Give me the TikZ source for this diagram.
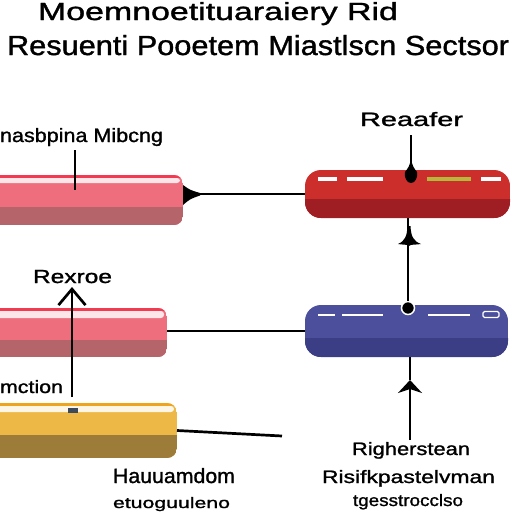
\documentclass[tikz,border=0pt]{standalone}
\usepackage{fontspec}
\setmainfont{Liberation Sans}
\newfontfamily\heavy[FakeBold=1.2]{Liberation Sans}
\usepackage{graphicx}
\usetikzlibrary{arrows.meta}
\definecolor{pinkmain}{HTML}{EE6E7E}
\definecolor{pinkdark}{HTML}{B5646A}
\definecolor{pinkborder}{HTML}{F23A50}
\definecolor{pinkhi}{HTML}{FCE6EA}
\definecolor{redmain}{HTML}{CC2E2C}
\definecolor{reddark}{HTML}{9E1E24}
\definecolor{bluemain}{HTML}{4B4F9C}
\definecolor{bluedark}{HTML}{3B3E84}
\definecolor{yelmain}{HTML}{EDB845}
\definecolor{yeldark}{HTML}{9D7B38}
\definecolor{yelborder}{HTML}{EFA41E}
\definecolor{yelhi}{HTML}{FDF6E6}
\definecolor{dashgreen}{HTML}{B5B83A}
\definecolor{chip}{HTML}{3B4A5C}
\newcommand{\fw}[3]{\resizebox{#1pt}{#2pt}{\heavy #3}}
\tikzset{
  lbl/.style={anchor=base west, inner sep=0pt, outer sep=0pt},
  wire/.style={line width=2.7pt, black},
  tube/.style={draw=none, inner sep=0pt, outer sep=0pt, rectangle},
  dotnode/.style={circle, fill=black, draw=white, line width=1.5pt, minimum size=13pt, inner sep=0pt},
}
\begin{document}
\begin{tikzpicture}[x=1pt,y=-1pt]
\useasboundingbox (0,0) rectangle (512,512);
\clip (0,0) rectangle (512,512);
\fill[white] (0,0) rectangle (512,512);

% titles
\node[lbl] (t1) at (38,20) {\fw{360}{18}{Moemnoetituaraiery Rid}};
\node[lbl] (t2) at (7,55) {\fw{502}{20}{Resuenti Pooetem Miastlscn Sectsor}};

% tubes (boxes)
\node[tube, minimum width=203pt, minimum height=50pt] (pinkA) at (81.5,200) {};
\begin{scope}
  \clip[rounded corners=9pt] (pinkA.south west) rectangle (pinkA.north east);
  \fill[pinkmain] (pinkA.south west) rectangle (pinkA.north east);
  \fill[pinkdark] (-20,207) rectangle (183,225);
  \fill[pinkborder] (-20,175) rectangle (183,178);
\end{scope}
\fill[pinkhi, rounded corners=3pt] (-20,178) rectangle (180,183);

\node[tube, minimum width=205pt, minimum height=48pt] (redB) at (407.5,194) {};
\begin{scope}
  \clip[rounded corners=16pt] (redB.south west) rectangle (redB.north east);
  \fill[redmain] (redB.south west) rectangle (redB.north east);
  \fill[reddark] (300,199) rectangle (515,220);
\end{scope}
\fill[white] (318,177) rectangle (337,181);
\fill[white] (347,177) rectangle (383,181);
\fill[dashgreen] (427,177) rectangle (471,181);
\fill[white] (481,177) rectangle (501,181);

\node[tube, minimum width=187pt, minimum height=49pt] (pinkC) at (73.5,332.5) {};
\begin{scope}
  \clip[rounded corners=9pt] (pinkC.south west) rectangle (pinkC.north east);
  \fill[pinkmain] (pinkC.south west) rectangle (pinkC.north east);
  \fill[pinkdark] (-20,340) rectangle (167,357);
  \fill[pinkborder] (-20,308) rectangle (167,311);
\end{scope}
\fill[pinkhi, rounded corners=3pt] (-20,311) rectangle (164,318);

\node[tube, minimum width=203pt, minimum height=52pt] (blueD) at (406.5,331) {};
\begin{scope}
  \clip[rounded corners=16pt] (blueD.south west) rectangle (blueD.north east);
  \fill[bluemain] (blueD.south west) rectangle (blueD.north east);
  \fill[bluedark] (300,338) rectangle (515,360);
\end{scope}
\fill[white] (318,313.5) rectangle (335,316);
\fill[white] (342,313.5) rectangle (383,316);
\fill[white] (428,313.5) rectangle (470,315.5);
\draw[white, line width=1.2pt, rounded corners=1.5pt] (483,311.5) rectangle (499,317.5);

\node[tube, minimum width=197pt, minimum height=55pt] (yelE) at (78.5,430.5) {};
\begin{scope}
  \clip[rounded corners=10pt] (yelE.south west) rectangle (yelE.north east);
  \fill[yelmain] (yelE.south west) rectangle (yelE.north east);
  \fill[yeldark] (-20,435) rectangle (177,458);
  \fill[yelborder] (-20,403) rectangle (177,406);
\end{scope}
\fill[yelhi, rounded corners=3pt] (-20,406) rectangle (174,412);
\fill[chip] (68,407.5) rectangle (78,413);

% labels
\node[lbl] (lMib) at (0,142) {\fw{163}{14}{nasbpina Mibcng}};
\node[lbl] (lRea) at (360,126) {\fw{103}{14}{Reaafer}};
\node[lbl] (lRex) at (33,283) {\fw{79}{13}{Rexroe}};
\node[lbl] (lMc) at (0,393) {\fw{63}{13}{mction}};
\node[lbl] (lHau) at (113,483) {\fw{122}{15}{Hauuamdom}};
\node[lbl] (lEtu) at (113,508) {\fw{117}{11}{etuoguuleno}};
\node[lbl] (lRig) at (352,455) {\fw{118}{13}{Righerstean}};
\node[lbl] (lRis) at (322,483) {\fw{173}{13}{Risifkpastelvman}};
\node[lbl] (lTge) at (353,506) {\fw{110}{12}{tgesstrocclso}};

% connectors
\coordinate (mibtop) at (75,150);
\coordinate (mibend) at (75,190);
\draw[wire] (mibtop) -- (mibend);

\draw[wire] (pinkA.east |- redB.west) -- (redB.west);
\fill (183,185) .. controls (190,190) .. (200,193) -- (200,195.5) .. controls (190,199) .. (183,205) -- cycle;

\draw[wire] (pinkC.east |- blueD.west) -- (blueD.west);

\coordinate (reatop) at (411,135);
\coordinate (reaend) at (411,182);
\draw[wire] (reatop) -- (reaend);
\fill (411,158) .. controls (412,166) and (414,168) .. (417,172)
  .. controls (418,178) and (415,183) .. (411,183)
  .. controls (407,183) and (404,178) .. (405,172)
  .. controls (408,168) and (410,166) .. (411,158) -- cycle;

\node[dotnode] (dot) at (408,308) {};
\draw[wire] (dot) -- (dot |- redB.south);
\fill (398,244) .. controls (405,241) and (407,236) .. (407.5,226) -- (410.5,226)
  .. controls (411,236) and (413,241) .. (421,244)
  .. controls (415,245) and (411,244) .. (409,246)
  .. controls (407,244) and (403,245) .. (398,244) -- cycle;

\coordinate (rexfoot) at (72,397);
\coordinate (rextip) at (72,287);
\draw[wire, -{Straight Barb[length=16pt, width=27pt]}] (rexfoot) -- (rextip);

\coordinate (yelend) at (282,436);
\draw[wire] (yelE.east) -- (yelend);

\coordinate (rbfoot) at (410,440);
\coordinate (rbtip) at (410,380);
\draw[wire, -{Stealth[length=13pt, width=24pt, inset=4pt]}] (rbfoot) -- (rbtip);
\draw[wire] (rbtip) -- (rbtip |- blueD.south);
\end{tikzpicture}
\end{document}
